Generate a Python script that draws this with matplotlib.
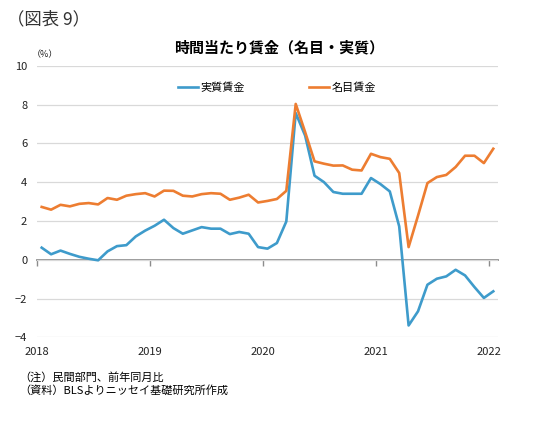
import numpy as np
import matplotlib
matplotlib.use('Agg')
import matplotlib.pyplot as plt

plt.rcParams['font.family'] = ['Noto Sans CJK JP', 'DejaVu Sans']

# monthly, Jan 2018 - Jan 2022 (YoY %)
years = ['2018', '2019', '2020', '2021', '2022']
nominal = [2.72, 2.58, 2.83, 2.75, 2.88, 2.92, 2.85, 3.18, 3.09, 3.30, 3.38, 3.43,
           3.26, 3.56, 3.55, 3.30, 3.26, 3.38, 3.43, 3.40, 3.09, 3.20, 3.35, 2.95,
           3.03, 3.13, 3.55, 8.03, 6.58, 5.07, 4.95, 4.85, 4.86, 4.64, 4.60, 5.46,
           5.29, 5.20, 4.47, 0.65, 2.27, 3.95, 4.26, 4.37, 4.78, 5.36, 5.36, 4.98,
           5.72]
real = [0.62, 0.28, 0.47, 0.30, 0.15, 0.05, -0.03, 0.43, 0.70, 0.75, 1.20, 1.50,
        1.75, 2.06, 1.63, 1.34, 1.51, 1.68, 1.60, 1.60, 1.32, 1.43, 1.34, 0.65,
        0.57, 0.86, 1.97, 7.56, 6.40, 4.33, 4.00, 3.49, 3.40, 3.40, 3.40, 4.21,
        3.90, 3.52, 1.72, -3.39, -2.66, -1.29, -0.98, -0.86, -0.52, -0.81, -1.41,
        -1.97, -1.63]

blue = '#3E9BCB'
orange = '#ED7D31'
x = np.arange(len(real))

fig = plt.figure(figsize=(5.4, 4.21), dpi=100)
ax = fig.add_axes([0.0685, 0.1988, 0.8537, 0.6451])

ax.plot(x, real, color=blue, lw=1.9, label='実質賃金')
ax.plot(x, nominal, color=orange, lw=1.9, label='名目賃金')

ax.set_xlim(-0.5, len(real) - 0.5)
ax.set_ylim(-4, 10)
ax.set_yticks(np.arange(-4, 11, 2))
ax.yaxis.grid(True, color='#d9d9d9', lw=0.9)
ax.set_axisbelow(True)
for s in ax.spines.values():
    s.set_visible(False)

# year labels sit between Dec and Jan
ticks = np.arange(len(years)) * 12 - 0.5
ax.set_xticks(ticks)
ax.set_xticklabels(years)
ax.tick_params(axis='x', length=0, pad=7, labelsize=8, colors='#222222')
ax.tick_params(axis='y', length=0, pad=7, labelsize=8, colors='#222222')

# zero line with small tick marks
zero = ax.secondary_xaxis(4 / 14)
zero.set_xticks(ticks)
zero.set_xticklabels([''] * len(ticks))
zero.spines['bottom'].set_color('#8c8c8c')
zero.spines['bottom'].set_linewidth(1.3)
zero.tick_params(axis='x', direction='out', length=4, width=1, color='#8c8c8c')

ax.legend(loc='upper center', bbox_to_anchor=(0.52, 0.975), ncol=2, frameon=False,
          fontsize=8, handlelength=1.8, handletextpad=0.2, columnspacing=5.8)

fig.text(0.013, 0.953, '（図表 9）', fontsize=12.5, color='#333333', va='center')
fig.text(0.516, 0.888, '時間当たり賃金（名目・実質）', fontsize=10.8, fontweight='bold',
         ha='center', va='center')
fig.text(0.058, 0.871, '（%）', fontsize=6.5, va='center', color='#222222')
fig.text(0.035, 0.104, '（注）民間部門、前年同月比', fontsize=8, va='center')
fig.text(0.035, 0.073, '（資料）BLSよりニッセイ基礎研究所作成', fontsize=8, va='center')

fig.savefig('out.png', dpi=100)
